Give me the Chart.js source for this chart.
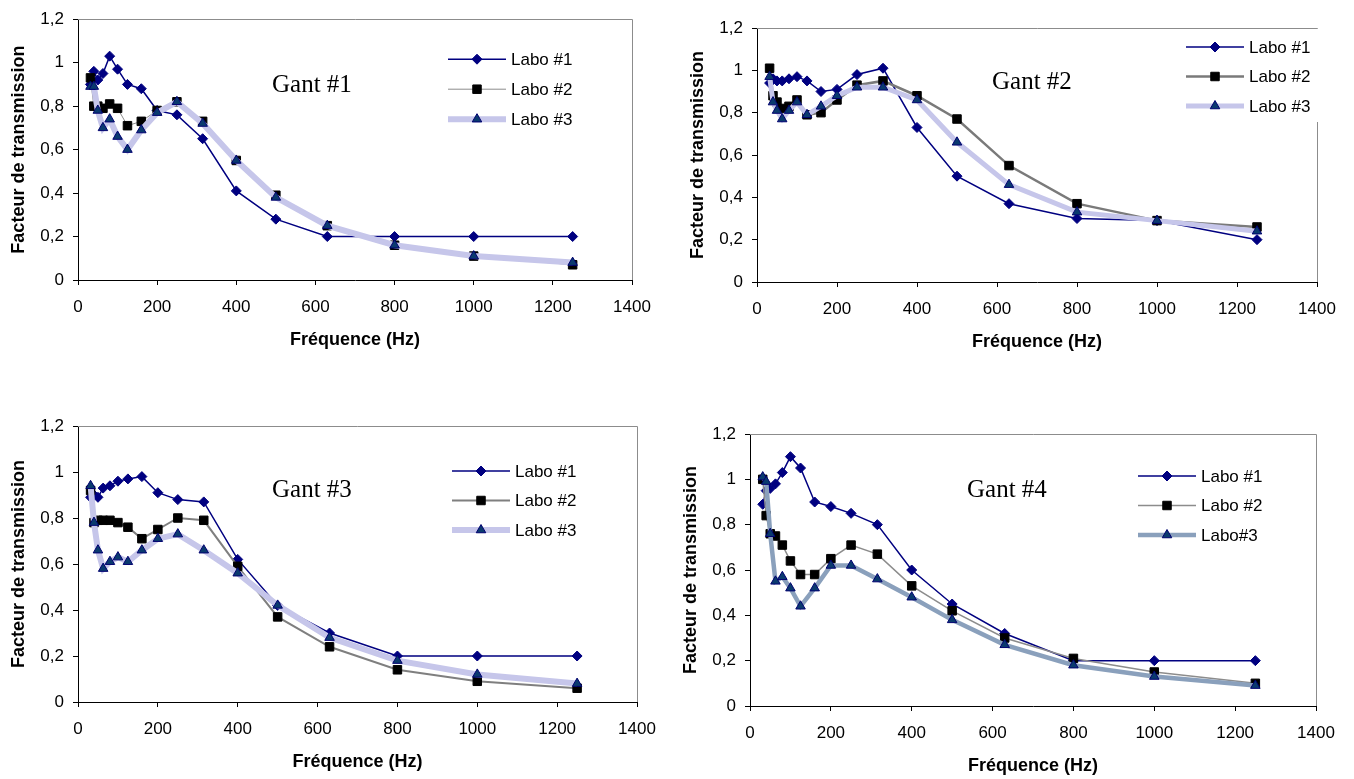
<!DOCTYPE html>
<html>
<head>
<meta charset="utf-8">
<script src="https://cdn.jsdelivr.net/npm/chart.js@4/dist/chart.umd.min.js"></script>
<style>
  body { margin: 0; background: #fff; width: 1354px; height: 779px; position: relative; overflow: hidden; }
  .box { position: absolute; }
</style>
</head>
<body>
<div class="box" style="left:0px;top:0px"><canvas id="c1"></canvas></div>
<div class="box" style="left:679px;top:0px"><canvas id="c2"></canvas></div>
<div class="box" style="left:0px;top:400px"><canvas id="c3"></canvas></div>
<div class="box" style="left:672px;top:400px"><canvas id="c4"></canvas></div>
<script>
// third-octave band centre frequencies (Hz)
const freq = [31.5, 40, 50, 63, 80, 100, 125, 160, 200, 250, 315, 400, 500, 630, 800, 1000, 1250];
const labos = ['Labo #1', 'Labo #2', 'Labo #3'];
const labos4 = ['Labo #1', 'Labo #2', 'Labo#3'];
const gants = ['Gant #1', 'Gant #2', 'Gant #3', 'Gant #4'];
const xTickLabels = ['0', '200', '400', '600', '800', '1000', '1200', '1400'];
const yTickLabels = ['0', '0,2', '0,4', '0,6', '0,8', '1', '1,2'];

// Gant #1
const g1l1 = [0.90, 0.96, 0.92, 0.95, 1.03, 0.97, 0.90, 0.88, 0.78, 0.76, 0.65, 0.41, 0.28, 0.20, 0.20, 0.20, 0.20];
const g1l2 = [0.93, 0.80, 0.80, 0.79, 0.81, 0.79, 0.71, 0.73, 0.78, 0.82, 0.73, 0.55, 0.39, 0.25, 0.16, 0.11, 0.07];
const g1l3 = [0.89, 0.89, 0.78, 0.70, 0.74, 0.66, 0.60, 0.69, 0.77, 0.82, 0.72, 0.55, 0.38, 0.25, 0.16, 0.11, 0.08];
// Gant #2
const g2l1 = [0.94, 0.96, 0.95, 0.95, 0.96, 0.97, 0.95, 0.90, 0.91, 0.98, 1.01, 0.73, 0.50, 0.37, 0.30, 0.29, 0.20];
const g2l2 = [1.01, 0.88, 0.85, 0.82, 0.83, 0.86, 0.79, 0.80, 0.86, 0.93, 0.95, 0.88, 0.77, 0.55, 0.37, 0.29, 0.26];
const g2l3 = [0.97, 0.85, 0.81, 0.77, 0.81, 0.85, 0.79, 0.83, 0.88, 0.92, 0.92, 0.86, 0.66, 0.46, 0.33, 0.29, 0.24];
// Gant #3
const g3l1 = [0.89, 0.90, 0.89, 0.93, 0.94, 0.96, 0.97, 0.98, 0.91, 0.88, 0.87, 0.62, 0.42, 0.30, 0.20, 0.20, 0.20];
const g3l2 = [0.92, 0.78, 0.79, 0.79, 0.79, 0.78, 0.76, 0.71, 0.75, 0.80, 0.79, 0.59, 0.37, 0.24, 0.14, 0.09, 0.06];
const g3l3 = [0.94, 0.78, 0.66, 0.58, 0.61, 0.63, 0.61, 0.66, 0.71, 0.73, 0.66, 0.56, 0.42, 0.28, 0.18, 0.12, 0.08];
// Gant #4
const g4l1 = [0.89, 0.95, 0.96, 0.98, 1.03, 1.10, 1.05, 0.90, 0.88, 0.85, 0.80, 0.60, 0.45, 0.32, 0.20, 0.20, 0.20];
const g4l2 = [1.00, 0.84, 0.76, 0.75, 0.71, 0.64, 0.58, 0.58, 0.65, 0.71, 0.67, 0.53, 0.42, 0.30, 0.21, 0.15, 0.10];
const g4l3 = [1.01, 0.99, 0.76, 0.55, 0.57, 0.52, 0.44, 0.52, 0.62, 0.62, 0.56, 0.48, 0.38, 0.27, 0.18, 0.13, 0.09];

Chart.defaults.font.family = "'Liberation Sans', Arial, sans-serif";
Chart.defaults.color = '#000';

// layout of each panel: canvas width, plot area inside the canvas, label / legend offsets
const panels = [
  { id: 'c1', w: 670, area: { l: 78, t: 16, r: 632, b: 280 }, series: [g1l1, g1l2, g1l3], names: labos, gant: gants[0],
    gx: 194, gy: 73, lx: -184, ly: 40, step: 30, l2w: 1, l2c: '#8c8c8c', l3w: 6, l3c: '#c6c6ea', bg: false },
  { id: 'c2', w: 675, area: { l: 78, t: 28, r: 638, b: 282 }, series: [g2l1, g2l2, g2l3], names: labos, gant: gants[1],
    gx: 235, gy: 61, lx: -131, ly: 19, step: 29.5, l2w: 2.5, l2c: '#7a7a7a', l3w: 5, l3c: '#c6c6ea', bg: true },
  { id: 'c3', w: 670, area: { l: 78, t: 26, r: 637, b: 302 }, series: [g3l1, g3l2, g3l3], names: labos, gant: gants[2],
    gx: 194, gy: 71, lx: -185, ly: 45, step: 29.5, l2w: 2, l2c: '#7f7f7f', l3w: 6, l3c: '#c6c6ea', bg: false },
  { id: 'c4', w: 682, area: { l: 78, t: 34, r: 644, b: 306 }, series: [g4l1, g4l2, g4l3], names: labos4, gant: gants[3],
    gx: 217, gy: 63, lx: -178, ly: 42, step: 29.5, l2w: 1.5, l2c: '#8c8c8c', l3w: 4.5, l3c: '#8aa0bc', bg: false }
];

const decor = {
  id: 'decor',
  beforeDatasetsDraw(chart, args, o) {
    const ctx = chart.ctx, a = chart.chartArea;
    ctx.save();
    ctx.strokeStyle = '#8c8c8c';
    ctx.lineWidth = 1;
    ctx.beginPath();
    ctx.moveTo(a.left, Math.round(a.top) + 0.5);
    ctx.lineTo(Math.round(a.right) + 0.5, Math.round(a.top) + 0.5);
    ctx.lineTo(Math.round(a.right) + 0.5, a.bottom);
    ctx.stroke();
    ctx.restore();
  },
  afterDraw(chart, args, o) {
    const ctx = chart.ctx, a = chart.chartArea;
    ctx.save();
    ctx.font = "25px 'Liberation Serif', 'Times New Roman', serif";
    ctx.fillStyle = '#000';
    ctx.textBaseline = 'alphabetic';
    ctx.textAlign = 'left';
    ctx.fillText(o.gant, a.left + o.gx, a.top + o.gy);

    const x0 = a.right + o.lx;
    if (o.bg) {
      ctx.fillStyle = '#fff';
      ctx.fillRect(x0 - 3, a.top + 1, a.right + 4 - (x0 - 3), o.ly + 2 * o.step + 15);
    }
    ctx.font = "17px 'Liberation Sans', Arial, sans-serif";
    ctx.textBaseline = 'middle';
    chart.data.datasets.forEach((ds, i) => {
      const y = a.top + o.ly + i * o.step;
      ctx.strokeStyle = ds.borderColor;
      ctx.lineWidth = ds.borderWidth;
      ctx.beginPath();
      ctx.moveTo(x0, y);
      ctx.lineTo(x0 + 58, y);
      ctx.stroke();
      ctx.fillStyle = ds.pointBackgroundColor;
      ctx.strokeStyle = ds.pointBorderColor;
      ctx.lineWidth = ds.pointBorderWidth;
      Chart.helpers.drawPoint(ctx, { pointStyle: ds.pointStyle, radius: ds.pointRadius, borderWidth: ds.pointBorderWidth, rotation: 0 }, x0 + 29, y);
      ctx.fillStyle = '#000';
      ctx.fillText(ds.label, x0 + 63, y + 1);
    });
    ctx.restore();
  }
};

panels.forEach(p => {
  const h = p.area.b + 71;
  const cv = document.getElementById(p.id);
  cv.width = p.w;
  cv.height = h;
  cv.style.width = p.w + 'px';
  cv.style.height = h + 'px';
  const pts = vals => freq.map((f, i) => ({ x: f, y: vals[i] }));
  new Chart(cv.getContext('2d'), {
    type: 'line',
    plugins: [decor],
    data: {
      datasets: [
        { label: p.names[0], data: pts(p.series[0]), borderColor: '#000080', borderWidth: 1.5,
          pointStyle: 'rectRot', pointRadius: 5, pointBackgroundColor: '#000080', pointBorderColor: '#000080', pointBorderWidth: 1, order: 3 },
        { label: p.names[1], data: pts(p.series[1]), borderColor: p.l2c, borderWidth: p.l2w,
          pointStyle: 'rect', pointRadius: 6, pointBackgroundColor: '#000', pointBorderColor: '#000', pointBorderWidth: 1, order: 2 },
        { label: p.names[2], data: pts(p.series[2]), borderColor: p.l3c, borderWidth: p.l3w,
          pointStyle: 'triangle', pointRadius: 5.5, pointBackgroundColor: '#0a3a6e', pointBorderColor: '#000070', pointBorderWidth: 1, order: 1 }
      ]
    },
    options: {
      responsive: false,
      animation: false,
      events: [],
      layout: { padding: { top: p.area.t, right: p.w - p.area.r, left: 0, bottom: 0 } },
      elements: { line: { tension: 0 } },
      plugins: {
        legend: { display: false },
        tooltip: { enabled: false },
        decor: p
      },
      scales: {
        x: {
          type: 'linear', min: 0, max: 1400,
          afterFit: s => { s.height = 71; },
          grid: { display: true, drawOnChartArea: false, drawTicks: true, tickLength: 5, color: '#000' },
          border: { color: '#000', width: 1 },
          ticks: { stepSize: 200, padding: 12, font: { size: 17 }, maxRotation: 0,
            callback: v => xTickLabels[Math.round(v / 200)] },
          title: { display: true, text: 'Fréquence (Hz)', font: { size: 18, weight: 'bold' }, padding: { top: 0, bottom: 0 } }
        },
        y: {
          min: 0, max: 1.2,
          afterFit: s => { s.width = 78; },
          grid: { display: true, drawOnChartArea: false, drawTicks: true, tickLength: 5, color: '#000' },
          border: { color: '#000', width: 1 },
          ticks: { stepSize: 0.2, padding: 9, font: { size: 17 },
            callback: v => yTickLabels[Math.round(v / 0.2)] },
          title: { display: true, text: 'Facteur de transmission', font: { size: 18, weight: 'bold' }, padding: { top: 8, bottom: 0 } }
        }
      }
    }
  });
});
</script>
</body>
</html>
